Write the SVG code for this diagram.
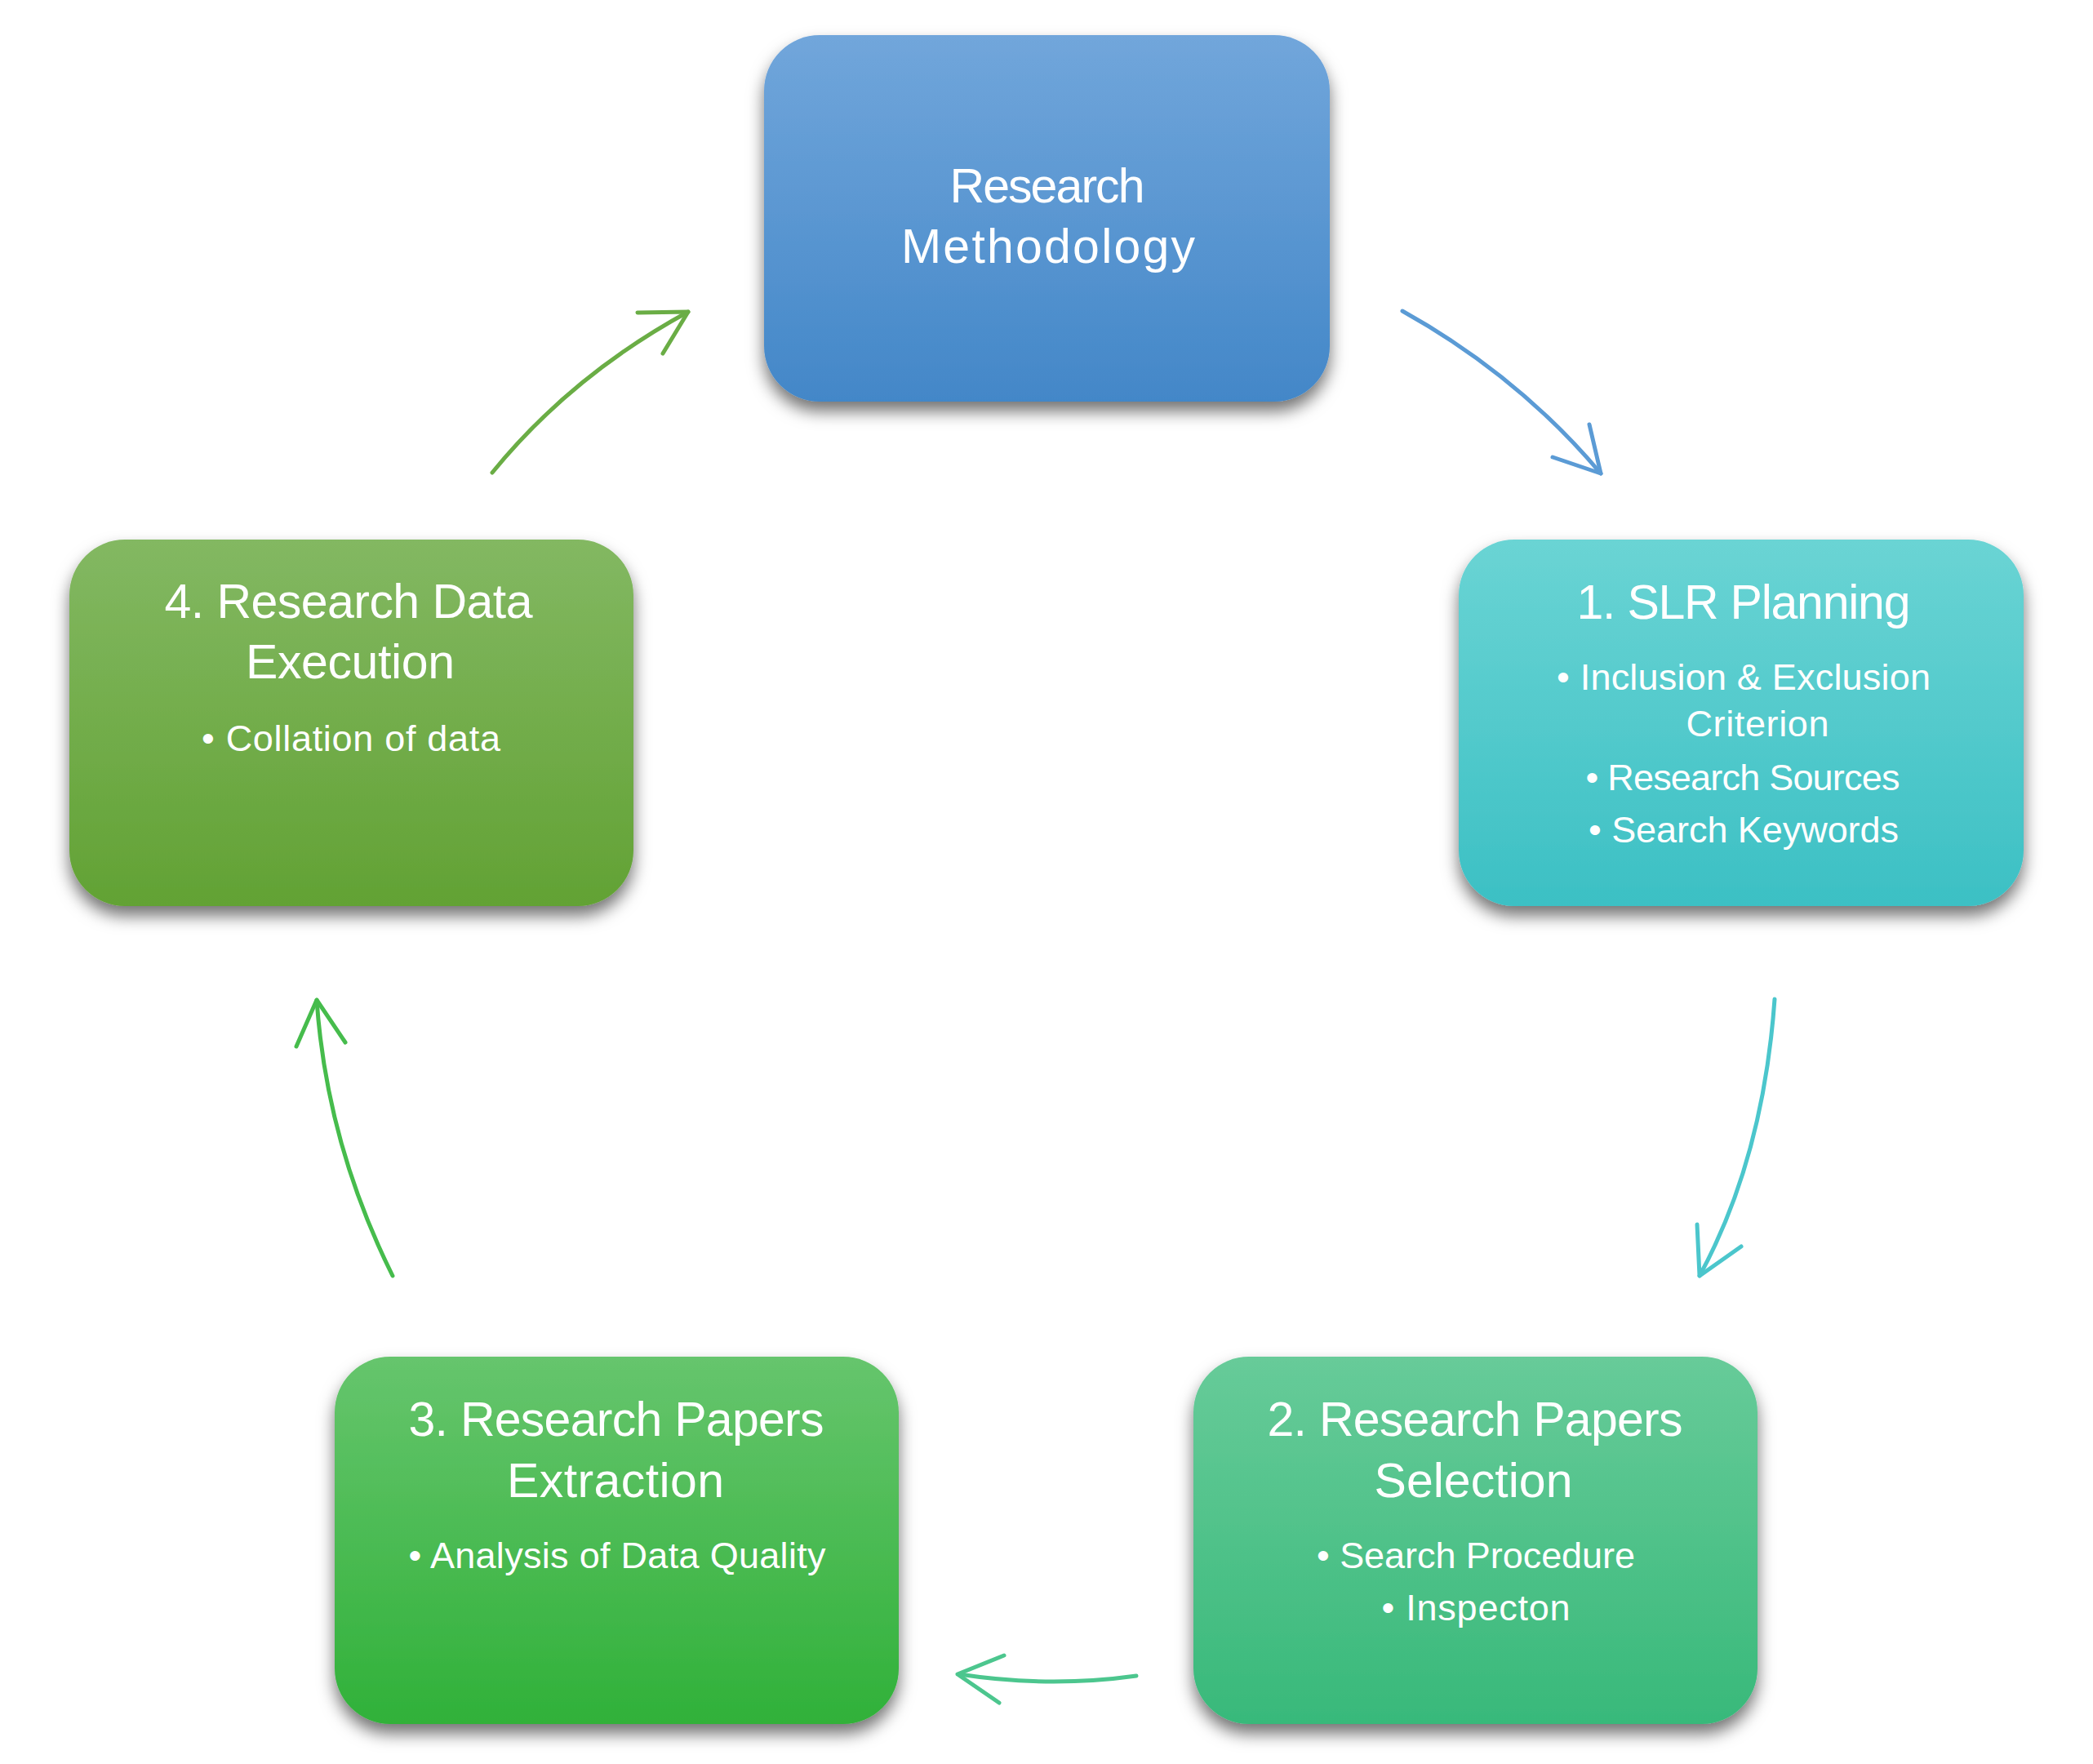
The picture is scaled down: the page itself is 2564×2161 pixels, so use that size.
<svg xmlns="http://www.w3.org/2000/svg" width="2564" height="2161" viewBox="0 0 2564 2161">
  <defs>
    <linearGradient id="gRM" x1="0" y1="0" x2="0" y2="1">
      <stop offset="0" stop-color="#71A6DB"/>
      <stop offset="1" stop-color="#4387C8"/>
    </linearGradient>
    <linearGradient id="gSLR" x1="0" y1="0" x2="0" y2="1">
      <stop offset="0" stop-color="#6AD4D4"/>
      <stop offset="1" stop-color="#3CC0C4"/>
    </linearGradient>
    <linearGradient id="gSEL" x1="0" y1="0" x2="0" y2="1">
      <stop offset="0" stop-color="#67CB99"/>
      <stop offset="1" stop-color="#38B97A"/>
    </linearGradient>
    <linearGradient id="gEXT" x1="0" y1="0" x2="0" y2="1">
      <stop offset="0" stop-color="#66C56D"/>
      <stop offset="1" stop-color="#30B139"/>
    </linearGradient>
    <linearGradient id="gEXE" x1="0" y1="0" x2="0" y2="1">
      <stop offset="0" stop-color="#83B862"/>
      <stop offset="1" stop-color="#62A234"/>
    </linearGradient>
    <filter id="shadow" x="-10%" y="-10%" width="120%" height="130%">
      <feDropShadow dx="0" dy="12" stdDeviation="10" flood-color="#000000" flood-opacity="0.55"/>
    </filter>
  </defs>
  <style>
    .box { filter: url(#shadow); }
    .t { font-family: "Liberation Sans", Arial, sans-serif; fill: #FFFFFF; text-anchor: middle; }
    .title { font-size: 59px; }
    .item { font-size: 45px; }
    .arr { fill: none; stroke-width: 5; stroke-linecap: round; stroke-linejoin: round; }
  </style>
  <rect width="2564" height="2161" fill="#FFFFFF"/>

  <g id="node-research-methodology">
    <rect class="box" x="936" y="43" width="693" height="449" rx="68" ry="68" fill="url(#gRM)"/>
    <text class="t title" x="1283" y="248" textLength="239">Research</text>
    <text class="t title" x="1284" y="322" textLength="360">Methodology</text>
  </g>

  <g id="node-slr-planning">
    <rect class="box" x="1787" y="661" width="692" height="449" rx="68" ry="68" fill="url(#gSLR)"/>
    <text class="t title" x="2136" y="758" textLength="409">1. SLR Planning</text>
    <text class="t item" x="2136" y="845" textLength="458">• Inclusion &amp; Exclusion</text>
    <text class="t item" x="2153" y="902" textLength="175">Criterion</text>
    <text class="t item" x="2135" y="968" textLength="385">• Research Sources</text>
    <text class="t item" x="2136" y="1032" textLength="380">• Search Keywords</text>
  </g>

  <g id="node-papers-selection">
    <rect class="box" x="1462" y="1662" width="691" height="450" rx="68" ry="68" fill="url(#gSEL)"/>
    <text class="t title" x="1807" y="1759" textLength="509">2. Research Papers</text>
    <text class="t title" x="1805" y="1834" textLength="243">Selection</text>
    <text class="t item" x="1808" y="1921" textLength="390">• Search Procedure</text>
    <text class="t item" x="1808" y="1985" textLength="231">• Inspecton</text>
  </g>

  <g id="node-papers-extraction">
    <rect class="box" x="410" y="1662" width="691" height="450" rx="68" ry="68" fill="url(#gEXT)"/>
    <text class="t title" x="755" y="1759" textLength="509">3. Research Papers</text>
    <text class="t title" x="754" y="1834" textLength="266">Extraction</text>
    <text class="t item" x="756" y="1921" textLength="511">• Analysis of Data Quality</text>
  </g>

  <g id="node-data-execution">
    <rect class="box" x="85" y="661" width="691" height="449" rx="68" ry="68" fill="url(#gEXE)"/>
    <text class="t title" x="427" y="757" textLength="451">4. Research Data</text>
    <text class="t title" x="429" y="831" textLength="256">Execution</text>
    <text class="t item" x="430" y="920" textLength="366">• Collation of data</text>
  </g>

  <g id="connectors">
    <g stroke="#5B9BD5" class="arr">
      <path d="M1718,381 Q1860,460 1961,580"/>
      <path d="M1947,520 L1961,580 L1902,560"/>
    </g>
    <g stroke="#4BC6CC" class="arr">
      <path d="M2174,1224 Q2160,1420 2082,1563"/>
      <path d="M2079,1500 L2082,1563 L2133,1527"/>
    </g>
    <g stroke="#4CC68E" class="arr">
      <path d="M1392,2053 Q1285,2068 1175,2051"/>
      <path d="M1230,2028 L1173,2051 L1224,2086"/>
    </g>
    <g stroke="#46BC4C" class="arr">
      <path d="M481,1563 Q400,1400 388,1225"/>
      <path d="M363,1282 L388,1225 L423,1277"/>
    </g>
    <g stroke="#6AAD45" class="arr">
      <path d="M603,579 Q700,460 843,382"/>
      <path d="M781,383 L843,382 L812,433"/>
    </g>
  </g>
</svg>
